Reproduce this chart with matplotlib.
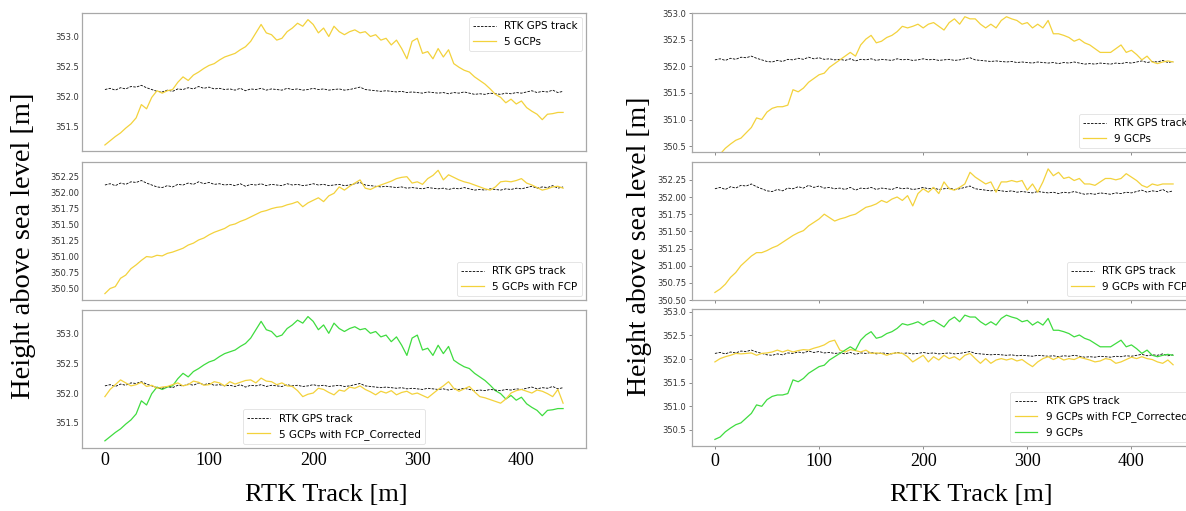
import matplotlib
matplotlib.use("Agg")
import matplotlib.pyplot as plt
import numpy as np

# Distanza lungo la traccia RTK [m], passo 5 m
track_m = list(range(0, 445, 5))

# Traccia RTK GPS (uguale in tutti i pannelli)
rtk = [352.12, 352.14, 352.11, 352.15, 352.13, 352.17, 352.16, 352.19, 352.15, 352.12,
       352.09, 352.08, 352.11, 352.09, 352.13, 352.12, 352.15, 352.13, 352.17, 352.14,
       352.16, 352.13, 352.14, 352.12, 352.13, 352.11, 352.14, 352.10, 352.13, 352.12,
       352.14, 352.11, 352.13, 352.12, 352.11, 352.14, 352.12, 352.13, 352.11, 352.12,
       352.14, 352.12, 352.13, 352.11, 352.12, 352.13, 352.11, 352.12, 352.14, 352.16,
       352.12, 352.11, 352.10, 352.09, 352.10, 352.09, 352.08, 352.09, 352.07, 352.08,
       352.07, 352.06, 352.08, 352.07, 352.06, 352.07, 352.05, 352.07, 352.06, 352.08,
       352.06, 352.04, 352.05, 352.04, 352.06, 352.05, 352.04, 352.06, 352.05, 352.07,
       352.06, 352.08, 352.10, 352.07, 352.09, 352.08, 352.11, 352.07, 352.09]

# 5 GCP
gcp5 = [351.20, 351.27, 351.34, 351.40, 351.48, 351.55, 351.65, 351.87, 351.80, 351.99,
        352.10, 352.06, 352.10, 352.12, 352.24, 352.33, 352.27, 352.36, 352.41, 352.47,
        352.52, 352.55, 352.61, 352.66, 352.69, 352.72, 352.78, 352.83, 352.92, 353.06,
        353.20, 353.06, 353.03, 352.94, 352.97, 353.08, 353.14, 353.22, 353.17, 353.28,
        353.20, 353.06, 353.14, 353.00, 353.17, 353.08, 353.03, 353.08, 353.11, 353.06,
        353.08, 353.00, 353.03, 352.94, 352.97, 352.86, 352.94, 352.80, 352.63, 352.92,
        352.97, 352.72, 352.75, 352.63, 352.80, 352.66, 352.78, 352.55, 352.49, 352.44,
        352.41, 352.33, 352.27, 352.21, 352.13, 352.04, 351.99, 351.90, 351.96, 351.88,
        351.93, 351.82, 351.76, 351.71, 351.62, 351.71, 351.72, 351.74, 351.74]

gcp5_fcp = [350.42, 350.50, 350.53, 350.66, 350.71, 350.81, 350.87, 350.94, 351.00, 350.99,
            351.02, 351.01, 351.05, 351.07, 351.10, 351.13, 351.18, 351.21, 351.26, 351.29,
            351.34, 351.38, 351.41, 351.44, 351.49, 351.51, 351.55, 351.58, 351.62, 351.66,
            351.70, 351.72, 351.75, 351.77, 351.78, 351.81, 351.83, 351.86, 351.78, 351.84,
            351.88, 351.92, 351.86, 351.95, 351.99, 352.09, 352.04, 352.10, 352.15, 352.20,
            352.07, 352.05, 352.09, 352.12, 352.15, 352.18, 352.22, 352.24, 352.25, 352.15,
            352.17, 352.13, 352.22, 352.27, 352.35, 352.20, 352.28, 352.24, 352.20, 352.17,
            352.15, 352.12, 352.09, 352.06, 352.04, 352.09, 352.17, 352.18, 352.17, 352.19,
            352.22, 352.15, 352.12, 352.08, 352.04, 352.06, 352.09, 352.10, 352.07]

gcp5_fcp_corr = [351.94, 352.06, 352.14, 352.22, 352.17, 352.12, 352.14, 352.18, 352.11, 352.13,
                 352.08, 352.10, 352.11, 352.14, 352.17, 352.12, 352.14, 352.20, 352.18, 352.13,
                 352.14, 352.19, 352.17, 352.12, 352.19, 352.15, 352.18, 352.21, 352.22, 352.17,
                 352.25, 352.20, 352.19, 352.14, 352.17, 352.12, 352.11, 352.04, 351.94, 351.98,
                 352.00, 352.08, 352.06, 352.01, 351.97, 352.05, 352.03, 352.10, 352.08, 352.12,
                 352.06, 352.02, 351.97, 352.03, 352.00, 352.04, 351.97, 352.01, 352.03, 351.98,
                 352.00, 351.96, 351.92, 351.99, 352.06, 352.12, 352.19, 352.08, 352.03, 352.07,
                 352.11, 352.02, 351.94, 351.92, 351.89, 351.86, 351.83, 351.90, 352.00, 352.04,
                 352.06, 352.03, 352.00, 352.05, 352.03, 351.99, 351.94, 352.06, 351.83]

# 9 GCP
gcp9 = [350.30, 350.35, 350.46, 350.54, 350.61, 350.65, 350.75, 350.85, 351.03, 351.00,
        351.14, 351.21, 351.24, 351.24, 351.27, 351.56, 351.52, 351.59, 351.70, 351.77,
        351.84, 351.87, 351.98, 352.05, 352.12, 352.19, 352.26, 352.19, 352.40, 352.51,
        352.58, 352.44, 352.47, 352.54, 352.58, 352.65, 352.75, 352.72, 352.75, 352.79,
        352.72, 352.79, 352.82, 352.75, 352.68, 352.82, 352.89, 352.79, 352.93, 352.89,
        352.89, 352.79, 352.72, 352.79, 352.72, 352.86, 352.93, 352.89, 352.86, 352.79,
        352.82, 352.72, 352.79, 352.72, 352.86, 352.61, 352.61, 352.58, 352.54, 352.47,
        352.51, 352.44, 352.40, 352.33, 352.26, 352.26, 352.26, 352.33, 352.40, 352.26,
        352.30, 352.22, 352.12, 352.19, 352.08, 352.05, 352.08, 352.10, 352.08]

gcp9_fcp = [350.61, 350.66, 350.73, 350.83, 350.90, 351.00, 351.07, 351.14, 351.19, 351.19,
            351.22, 351.26, 351.29, 351.34, 351.39, 351.44, 351.48, 351.51, 351.58, 351.63,
            351.68, 351.75, 351.70, 351.65, 351.68, 351.70, 351.73, 351.75, 351.80, 351.85,
            351.87, 351.90, 351.95, 351.92, 351.97, 352.00, 351.95, 352.02, 351.87, 352.05,
            352.12, 352.07, 352.14, 352.05, 352.22, 352.12, 352.10, 352.14, 352.19, 352.36,
            352.29, 352.24, 352.19, 352.22, 352.07, 352.22, 352.22, 352.24, 352.22, 352.24,
            352.10, 352.19, 352.07, 352.22, 352.41, 352.31, 352.36, 352.27, 352.29, 352.24,
            352.27, 352.19, 352.19, 352.17, 352.22, 352.27, 352.27, 352.25, 352.27, 352.34,
            352.29, 352.24, 352.17, 352.14, 352.19, 352.17, 352.19, 352.19, 352.19]

gcp9_fcp_corr = [351.94, 352.01, 352.05, 352.08, 352.12, 352.11, 352.12, 352.13, 352.08, 352.12,
                 352.13, 352.15, 352.19, 352.15, 352.19, 352.15, 352.18, 352.20, 352.19, 352.23,
                 352.26, 352.30, 352.37, 352.40, 352.19, 352.15, 352.20, 352.18, 352.15, 352.19,
                 352.12, 352.13, 352.12, 352.08, 352.12, 352.13, 352.12, 352.05, 351.94, 352.01,
                 352.08, 351.94, 352.05, 351.98, 352.08, 352.01, 352.05, 351.98, 352.08, 352.12,
                 352.01, 351.91, 352.01, 351.91, 351.98, 352.01, 351.98, 352.01, 351.96, 351.99,
                 351.91, 351.84, 351.94, 352.01, 352.05, 351.99, 352.04, 351.98, 352.01, 351.99,
                 352.04, 352.01, 351.98, 351.94, 351.96, 352.01, 351.99, 351.91, 351.94, 351.99,
                 352.04, 352.01, 352.05, 352.01, 351.99, 351.94, 351.91, 351.98, 351.88]

x_ticks = [0, 100, 200, 300, 400]

# Colori
YELLOW = "#f3d23c"
GREEN = "#3fdc3f"
FRAME = "#a8a8a8"

W, H = 1186, 511
fig = plt.figure(figsize=(W / 100, H / 100), dpi=100)


def px_axes(left, top, right, bottom):
    """Crea un axes a partire da coordinate in pixel dell'immagine."""
    return fig.add_axes([left / W, 1 - bottom / H, (right - left) / W, (bottom - top) / H])


def style_panel(ax, yticks, fmt, ylim, show_x, tick_len):
    ax.set_xlim(-22, 462)
    ax.set_ylim(*ylim)
    ax.set_yticks(yticks)
    ax.set_yticklabels([fmt % v for v in yticks], fontsize=6, color="#333333",
                       family="DejaVu Sans")
    ax.set_xticks(x_ticks)
    if show_x:
        ax.set_xticklabels([str(v) for v in x_ticks], fontsize=13,
                           family="Liberation Serif")
    else:
        ax.set_xticklabels([])
    ax.tick_params(axis="both", length=tick_len, width=0.6, color="#777777", pad=2)
    ax.tick_params(axis="x", pad=3)
    for sp in ax.spines.values():
        sp.set_color(FRAME)
        sp.set_linewidth(0.9)


def legend(ax, loc, **kw):
    leg = ax.legend(loc=loc, frameon=True, fancybox=True,
                    edgecolor="#dddddd", framealpha=0.9, handlelength=2.2,
                    borderaxespad=0.4, prop={"family": "DejaVu Sans", "size": 7.5}, **kw)
    leg.get_frame().set_linewidth(0.6)
    return leg


rtk_kw = dict(color="black", linestyle="--", linewidth=0.6, dashes=(3, 1.5))

# ---- Colonna sinistra: 5 GCP ----
ax = px_axes(82, 13, 586, 151)
ax.plot(track_m, rtk, label="RTK GPS track", **rtk_kw)
ax.plot(track_m, gcp5, color=YELLOW, linewidth=0.9, label="5 GCPs")
style_panel(ax, [351.5, 352.0, 352.5, 353.0], "%.1f", (351.10, 353.39), False, 0)
legend(ax, "upper right")

ax = px_axes(82, 162, 586, 300)
ax.plot(track_m, rtk, label="RTK GPS track", **rtk_kw)
ax.plot(track_m, gcp5_fcp, color=YELLOW, linewidth=0.9, label="5 GCPs with FCP")
style_panel(ax, [350.50, 350.75, 351.00, 351.25, 351.50, 351.75, 352.00, 352.25],
            "%.2f", (350.32, 352.48), False, 0)
legend(ax, "lower right")

ax = px_axes(82, 310, 586, 448)
ax.plot(track_m, gcp5, color=GREEN, linewidth=0.9)
ax.plot(track_m, rtk, label="RTK GPS track", **rtk_kw)
ax.plot(track_m, gcp5_fcp_corr, color=YELLOW, linewidth=0.9,
        label="5 GCPs with FCP_Corrected")
style_panel(ax, [351.5, 352.0, 352.5, 353.0], "%.1f", (351.08, 353.39), True, 0)
legend(ax, "lower center")

# ---- Colonna destra: 9 GCP ----
ax = px_axes(692, 13, 1196, 152)
ax.plot(track_m, rtk, label="RTK GPS track", **rtk_kw)
ax.plot(track_m, gcp9, color=YELLOW, linewidth=0.9, label="9 GCPs")
style_panel(ax, [350.5, 351.0, 351.5, 352.0, 352.5, 353.0], "%.1f",
            (350.39, 353.0), False, 2)
legend(ax, "lower right")

ax = px_axes(692, 162, 1196, 300)
ax.plot(track_m, rtk, label="RTK GPS track", **rtk_kw)
ax.plot(track_m, gcp9_fcp, color=YELLOW, linewidth=0.9, label="9 GCPs with FCP")
style_panel(ax, [350.50, 350.75, 351.00, 351.25, 351.50, 351.75, 352.00, 352.25],
            "%.2f", (350.50, 352.51), False, 2)
legend(ax, "lower right")

ax = px_axes(692, 309, 1196, 446)
ax.plot(track_m, rtk, label="RTK GPS track", **rtk_kw)
ax.plot(track_m, gcp9_fcp_corr, color=YELLOW, linewidth=0.9,
        label="9 GCPs with FCP_Corrected")
ax.plot(track_m, gcp9, color=GREEN, linewidth=0.9, label="9 GCPs")
style_panel(ax, [350.5, 351.0, 351.5, 352.0, 352.5, 353.0], "%.1f",
            (350.16, 353.06), True, 2)
legend(ax, "lower right")

# Etichette degli assi (serif, come nell'originale)
lab = dict(family="Liberation Serif", ha="center", va="center")
fig.text(24 / W, 1 - 246 / H, "Height above sea level [m]", rotation=90,
         fontsize=20.5, **lab)
fig.text(639 / W, 1 - 246 / H, "Height above sea level [m]", rotation=90,
         fontsize=20, **lab)
fig.text(326 / W, 1 - 495 / H, "RTK Track [m]", fontsize=19, **lab)
fig.text(971 / W, 1 - 495 / H, "RTK Track [m]", fontsize=19, **lab)

fig.savefig("out.png", dpi=100)
